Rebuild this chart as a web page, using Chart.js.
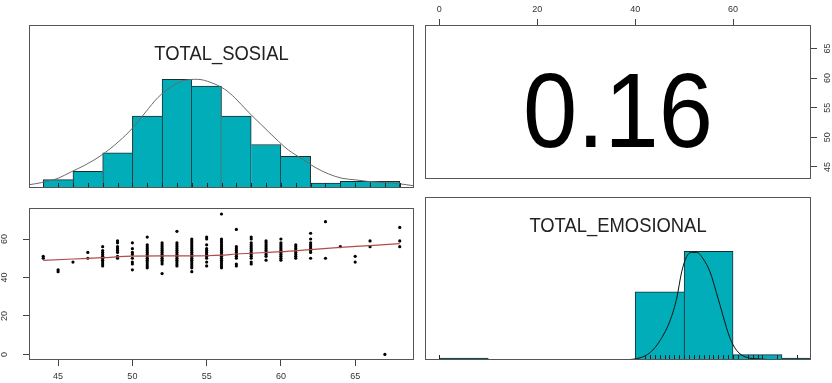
<!DOCTYPE html>
<html>
<head>
<meta charset="utf-8">
<script src="https://cdn.jsdelivr.net/npm/chart.js@4.4.1/dist/chart.umd.min.js"></script>
<style>
  html, body { margin: 0; padding: 0; background: #fff; }
  body { width: 832px; height: 383px; position: relative; overflow: hidden; }
  canvas { position: absolute; }
</style>
</head>
<body>
<canvas id="hist-sosial" width="385" height="163" style="left:29px;top:25px"></canvas>
<canvas id="corr" width="417" height="190" style="left:415px;top:0px"></canvas>
<canvas id="scatter" width="420" height="193" style="left:0px;top:190px"></canvas>
<canvas id="hist-emo" width="412" height="193" style="left:420px;top:190px"></canvas>
<script>
'use strict';

// histogram bins
const sosialBreaks = [44, 46, 48, 50, 52, 54, 56, 58, 60, 62, 64, 66, 68];
const sosialCounts = [5, 10, 21, 43, 65, 61, 43, 26, 19, 3, 4, 4];
const emoBreaks = [0, 10, 20, 30, 40, 50, 60, 70, 80];
const emoCounts = [1, 0, 0, 0, 113, 180, 9, 1];

// density curves (relative height, peak = 1)
const sosialCurveX = [43.04, 43.9, 45.0, 45.9, 46.8, 47.9, 49.1, 50.0, 50.9, 51.7, 52.7, 53.5, 54.4, 55.3, 56.2, 56.9, 57.8, 58.7, 59.6, 60.5, 61.4, 62.3, 63.2, 64.1, 65.0, 65.9, 66.8, 67.9, 68.96];
const sosialCurveY = [0.03, 0.05, 0.09, 0.15, 0.21, 0.30, 0.43, 0.55, 0.70, 0.83, 0.94, 0.99, 1.0, 0.97, 0.91, 0.83, 0.70, 0.58, 0.46, 0.35, 0.27, 0.19, 0.13, 0.09, 0.075, 0.06, 0.05, 0.04, 0.02];
const emoCurveX = [38.0, 41.0, 43.1, 45.1, 47.2, 48.5, 49.5, 50.5, 51.5, 52.6, 53.9, 55.3, 56.6, 58.0, 59.3, 60.7, 62.7, 65.4, 69.5, 75.92];
const emoCurveY = [0, 0.02, 0.07, 0.18, 0.37, 0.57, 0.81, 0.95, 0.99, 0.99, 0.93, 0.81, 0.62, 0.40, 0.21, 0.09, 0.025, 0.01, 0, 0];

// scatter: TOTAL_SOSIAL values and the TOTAL_EMOSIONAL values seen at each
const scatterSosial = [44, 45, 46, 47, 48, 49, 50, 51, 52, 53, 54, 55, 56, 57, 58, 59, 60, 61, 62, 63, 64, 65, 66, 67, 68];
const scatterEmo = [
  [50, 51],
  [43, 44],
  [48],
  [50, 53],
  [46, 47, 48, 49, 50, 51, 52, 53, 54, 56],
  [50, 51, 53, 54, 55, 56, 58, 59],
  [44, 47, 48, 50, 52, 53, 55, 58],
  [45, 46, 47, 48, 49, 50, 51, 52, 53, 54, 55, 56, 57, 61],
  [42, 47, 48, 49, 50, 51, 52, 53, 54, 55, 56, 57, 58],
  [46, 47, 48, 49, 50, 51, 52, 53, 54, 55, 56, 57, 58, 64],
  [43, 45, 46, 47, 48, 49, 50, 51, 52, 53, 54, 55, 56, 57, 58, 59, 60],
  [46, 48, 50, 51, 52, 53, 54, 55, 57, 60, 61],
  [45, 46, 47, 48, 49, 50, 51, 52, 53, 54, 55, 56, 57, 58, 59, 60, 73],
  [46, 47, 50, 51, 52, 53, 54, 55, 56, 65],
  [47, 48, 50, 51, 52, 53, 54, 55, 56, 57, 58, 60, 61],
  [49, 51, 52, 53, 54, 55, 56, 57, 58, 59],
  [49, 50, 51, 52, 53, 54, 55, 56, 57, 58, 60],
  [50, 51, 52, 53, 54, 55, 56, 57],
  [50, 53, 54, 55, 56, 57, 58, 60, 63],
  [50, 69],
  [56],
  [48, 51],
  [56, 59],
  [0],
  [56, 59, 66]
];

// smoothed fit in the scatter panel
const smoothX = [44, 46, 48, 50, 52, 54, 55, 56, 57, 58, 60, 62, 64, 66, 68];
const smoothY = [48.9, 49.6, 50.3, 51.1, 51.2, 51.2, 51.3, 51.6, 52.2, 52.6, 53.4, 54.5, 55.6, 56.6, 57.6];

const correlation = '0.16';
const sosialTicks = [45, 50, 55, 60, 65];
const emoTicks = [0, 20, 40, 60];
const sosialRange = [43.04, 68.96];
const emoRange = [-2.92, 75.92];

const histCol = '#00adb9';
const barEdge = '#1d2e30';
const font = "'Liberation Sans', Arial, sans-serif";

Chart.defaults.font.family = font;
Chart.defaults.animation = false;
Chart.defaults.responsive = false;
Chart.defaults.events = [];
Chart.defaults.plugins.legend.display = false;
Chart.defaults.plugins.tooltip.enabled = false;

const framePlugin = {
  id: 'frame',
  afterDraw(chart) {
    const { ctx, chartArea: a } = chart;
    ctx.save();
    ctx.strokeStyle = '#555';
    ctx.lineWidth = 1;
    ctx.strokeRect(Math.round(a.left) + 0.5, Math.round(a.top) + 0.5, Math.round(a.right - a.left) - 1, Math.round(a.bottom - a.top) - 1);
    ctx.restore();
  }
};

function panelText(text, size, baseline, color) {
  return {
    id: 'panelText',
    afterDraw(chart) {
      const { ctx, chartArea: a } = chart;
      ctx.save();
      ctx.translate((a.left + a.right) / 2, a.top + baseline);
      ctx.scale(0.92, 1);
      ctx.font = size + 'px ' + font;
      ctx.fillStyle = color;
      ctx.textAlign = 'center';
      ctx.textBaseline = 'alphabetic';
      ctx.fillText(text, 0, 0);
      ctx.restore();
    }
  };
}

function rug(values) {
  return {
    id: 'rug',
    afterDatasetsDraw(chart) {
      const { ctx, chartArea: a, scales: { x } } = chart;
      ctx.save();
      ctx.beginPath();
      ctx.rect(a.left, a.top, a.width, a.height);
      ctx.clip();
      ctx.beginPath();
      ctx.strokeStyle = '#222';
      ctx.lineWidth = 1;
      values.forEach(v => {
        const px = Math.round(x.getPixelForValue(v)) + 0.5;
        ctx.moveTo(px, a.bottom);
        ctx.lineTo(px, a.bottom - 5);
      });
      ctx.stroke();
      ctx.restore();
    }
  };
}

// empty bins are left out, the rest scaled so the tallest bar is 1
function histData(breaks, counts) {
  const top = Math.max(...counts);
  return counts.map((c, i) => ({ x: (breaks[i] + breaks[i + 1]) / 2, y: c ? c / top : null }));
}

function barBorders(counts) {
  return ctx => {
    const i = ctx.dataIndex;
    const h = counts[i];
    return {
      top: 1,
      bottom: 0,
      left: (i === 0 || counts[i - 1] <= h) ? 1 : 0,
      right: (i === counts.length - 1 || counts[i + 1] < h) ? 1 : 0
    };
  };
}

function histChart(id, breaks, counts, curveX, curveY, range, rugValues, title, curveColor, padding) {
  return new Chart(document.getElementById(id), {
    type: 'bar',
    data: {
      datasets: [
        {
          type: 'line',
          data: curveX.map((x, i) => ({ x, y: curveY[i] })),
          borderColor: curveColor,
          borderWidth: 1,
          pointRadius: 0,
          cubicInterpolationMode: 'monotone',
          order: 1
        },
        {
          type: 'bar',
          data: histData(breaks, counts),
          backgroundColor: histCol,
          borderColor: barEdge,
          borderWidth: barBorders(counts),
          borderSkipped: false,
          barPercentage: 1,
          categoryPercentage: 1,
          minBarLength: 2,
          order: 2
        }
      ]
    },
    options: {
      layout: { padding },
      scales: {
        x: { type: 'linear', min: range[0], max: range[1], offset: false, display: false },
        y: { type: 'linear', min: 0, max: 1.5, display: false }
      }
    },
    plugins: [rug(rugValues), framePlugin, panelText(title, 20, 35, '#222')]
  });
}

const scatterPoints = [];
scatterSosial.forEach((x, i) => scatterEmo[i].forEach(y => scatterPoints.push({ x, y })));
const emoUnique = [...new Set(scatterEmo.flat())];

histChart('hist-sosial', sosialBreaks, sosialCounts, sosialCurveX, sosialCurveY, sosialRange, scatterSosial, 'TOTAL_SOSIAL', '#6a6a6a', 0);
histChart('hist-emo', emoBreaks, emoCounts, emoCurveX, emoCurveY, emoRange, emoUnique, 'TOTAL_EMOSIONAL', '#111', { left: 5, top: 7, right: 21, bottom: 23 });

const tickFont = { size: 9, family: font };
const axisGrid = { drawOnChartArea: false, drawTicks: true, tickLength: 6, color: '#444' };

new Chart(document.getElementById('corr'), {
  type: 'scatter',
  data: { datasets: [] },
  options: {
    layout: { padding: { left: 10, top: 0, right: 0, bottom: 2 } },
    scales: {
      x: {
        type: 'linear', position: 'top', min: emoRange[0], max: emoRange[1],
        grid: axisGrid, border: { display: false },
        ticks: { font: tickFont, color: '#333', padding: 4, maxRotation: 0 },
        afterBuildTicks: s => { s.ticks = emoTicks.map(v => ({ value: v })); },
        afterFit: s => { s.height = 25; }
      },
      y: {
        type: 'linear', position: 'right', min: sosialRange[0], max: sosialRange[1],
        grid: axisGrid, border: { display: false },
        ticks: { font: tickFont, color: '#333', padding: 6, minRotation: 90, maxRotation: 90, crossAlign: 'center' },
        afterBuildTicks: s => { s.ticks = sosialTicks.map(v => ({ value: v })); },
        afterFit: s => { s.width = 21; }
      }
    }
  },
  plugins: [framePlugin, panelText(correlation, 106, 122, '#000')]
});

new Chart(document.getElementById('scatter'), {
  type: 'scatter',
  data: {
    datasets: [
      {
        type: 'line',
        data: smoothX.map((x, i) => ({ x, y: smoothY[i] })),
        borderColor: '#b24b4b',
        borderWidth: 1.2,
        pointRadius: 0,
        cubicInterpolationMode: 'monotone',
        order: 1
      },
      {
        data: scatterPoints,
        backgroundColor: '#000',
        borderWidth: 0,
        pointRadius: 1.6,
        order: 2
      }
    ]
  },
  options: {
    layout: { padding: { left: 0, top: 7, right: 6, bottom: 0 } },
    scales: {
      x: {
        type: 'linear', position: 'bottom', min: sosialRange[0], max: sosialRange[1],
        grid: axisGrid, border: { display: false },
        ticks: { font: tickFont, color: '#333', padding: 5, maxRotation: 0 },
        afterBuildTicks: s => { s.ticks = sosialTicks.map(v => ({ value: v })); },
        afterFit: s => { s.height = 23; }
      },
      y: {
        type: 'linear', position: 'left', min: emoRange[0], max: emoRange[1],
        grid: axisGrid, border: { display: false },
        ticks: { font: tickFont, color: '#333', padding: 13, minRotation: 90, maxRotation: 90, crossAlign: 'center' },
        afterBuildTicks: s => { s.ticks = emoTicks.map(v => ({ value: v })); },
        afterFit: s => { s.width = 29; }
      }
    }
  },
  plugins: [framePlugin]
});
</script>
</body>
</html>
